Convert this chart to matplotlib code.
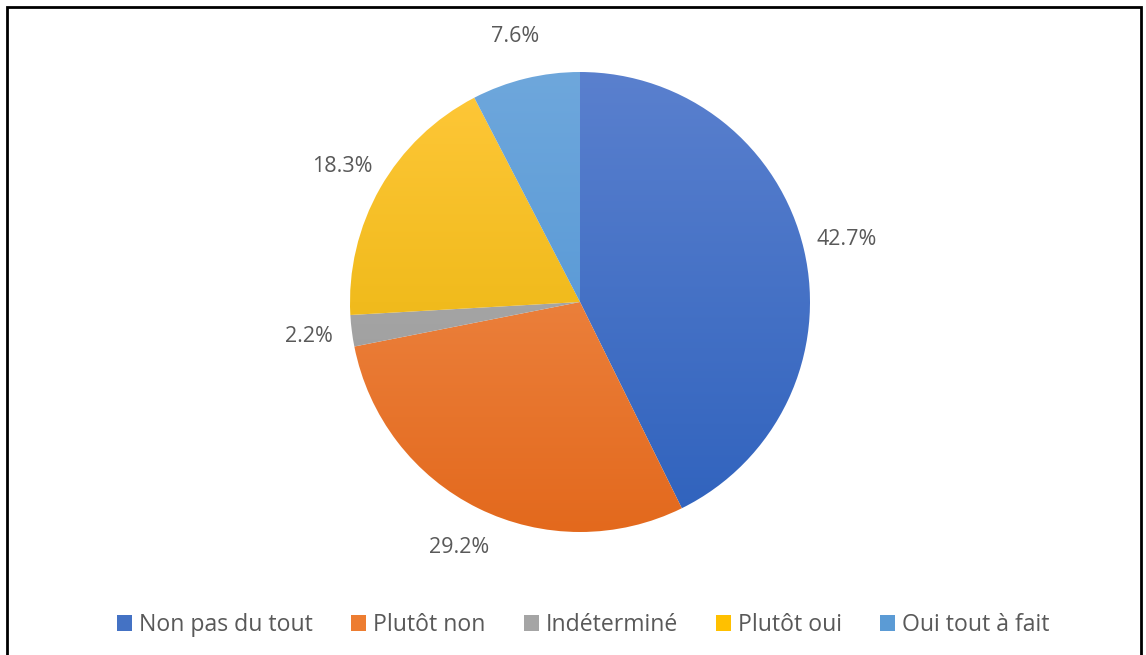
import numpy as np
import matplotlib
matplotlib.use("Agg")
import matplotlib.pyplot as plt
from matplotlib.colors import LinearSegmentedColormap
from matplotlib.patches import Rectangle

labels = ["Non pas du tout", "Plutôt non", "Indéterminé", "Plutôt oui", "Oui tout à fait"]
values = [42.7, 29.2, 2.2, 18.3, 7.6]
# couleurs haut / bas (dégradé type Excel)
top_colors = ["#5A80CE", "#F39558", "#B4B4B4", "#FFC83A", "#6EA7DC"]
bottom_colors = ["#2F62BD", "#E3691D", "#959595", "#E3AE00", "#4A90D2"]
legend_colors = ["#4472C4", "#ED7D31", "#A5A5A5", "#FFC000", "#5B9BD5"]

plt.rcParams['font.family'] = ['Open Sans', 'DejaVu Sans']

fig = plt.figure(figsize=(11.46, 6.55), dpi=100)
ax = fig.add_axes([350/1146, (655-532)/655, 460/1146, 460/655])

wedges, texts = ax.pie(values, startangle=90, counterclock=False,
                       colors=legend_colors, labels=[f"{v:.1f}%" for v in values],
                       labeldistance=1.19, radius=1.0,
                       textprops=dict(color="#595959", fontsize=15.5))
ax.set_xlim(-1, 1)
ax.set_ylim(-1, 1)
ax.set_aspect('equal')
ax.axis('off')

# dégradé vertical dans chaque part
grad = np.linspace(0, 1, 256).reshape(-1, 1)
for w, c1, c2 in zip(wedges, top_colors, bottom_colors):
    cmap = LinearSegmentedColormap.from_list("g", [c1, c2])
    w.set_facecolor("none")
    w.set_edgecolor("none")
    im = ax.imshow(grad, cmap=cmap, extent=[-1, 1, -1, 1], origin='upper',
                   aspect='auto', zorder=1)
    im.set_clip_path(w)

for t in texts:
    t.set_zorder(3)
    t.set_horizontalalignment('center')
    t.set_verticalalignment('center')

handles = [Rectangle((0, 0), 1, 1, facecolor=c) for c in legend_colors]
fig.legend(handles, labels, loc='center', bbox_to_anchor=(0.509, 1 - 625/655),
           ncol=5, frameon=False, fontsize=16.6, handlelength=0.65, handleheight=0.65,
           columnspacing=1.65, handletextpad=0.3, labelcolor="#595959")

# cadre
fig.patches.append(Rectangle((7/1146, -0.01), 1134/1146, 1 - 7/655 + 0.01,
                             transform=fig.transFigure, fill=False,
                             edgecolor="black", linewidth=2))

fig.savefig("out.png", dpi=100, facecolor="white")
